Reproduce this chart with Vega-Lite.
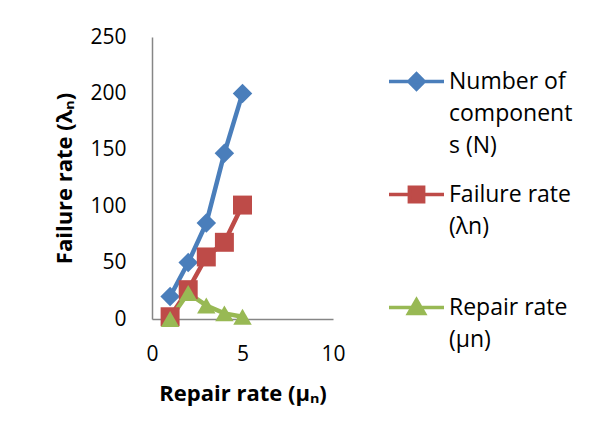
{
  "$schema": "https://vega.github.io/schema/vega-lite/v6.json",
  "width": 181,
  "height": 282,
  "autosize": {"type": "none"},
  "padding": {"left": 152, "top": 37, "right": 259, "bottom": 120},
  "background": "white",
  "config": {
    "view": {"stroke": null},
    "font": "Open Sans",
    "axis": {
      "grid": false,
      "ticks": false,
      "domainColor": "#868686",
      "domainWidth": 1.5,
      "labelFont": "Open Sans",
      "labelFontSize": 21,
      "labelColor": "#000000",
      "labelFlush": false,
      "titleFont": "Open Sans",
      "titleFontSize": 22,
      "titleFontWeight": "bold",
      "titleColor": "#000000"
    }
  },
  "data": {
    "values": [
      {"x": 1, "value": 20, "series": "Number of components (N)"},
      {"x": 2, "value": 50, "series": "Number of components (N)"},
      {"x": 3, "value": 85, "series": "Number of components (N)"},
      {"x": 4, "value": 147, "series": "Number of components (N)"},
      {"x": 5, "value": 200, "series": "Number of components (N)"},
      {"x": 1, "value": 2, "series": "Failure rate (λn)"},
      {"x": 2, "value": 26, "series": "Failure rate (λn)"},
      {"x": 3, "value": 55, "series": "Failure rate (λn)"},
      {"x": 4, "value": 68, "series": "Failure rate (λn)"},
      {"x": 5, "value": 101, "series": "Failure rate (λn)"},
      {"x": 1, "value": 0, "series": "Repair rate (µn)"},
      {"x": 2, "value": 23, "series": "Repair rate (µn)"},
      {"x": 3, "value": 12, "series": "Repair rate (µn)"},
      {"x": 4, "value": 5, "series": "Repair rate (µn)"},
      {"x": 5, "value": 2, "series": "Repair rate (µn)"}
    ]
  },
  "encoding": {
    "x": {
      "field": "x",
      "type": "quantitative",
      "scale": {"domain": [0, 10], "nice": false},
      "axis": {"values": [0, 5, 10], "labelPadding": 24, "title": "Repair rate (μₙ)", "titlePadding": 19}
    },
    "y": {
      "field": "value",
      "type": "quantitative",
      "scale": {"domain": [0, 250], "nice": false},
      "axis": {"values": [0, 50, 100, 150, 200, 250], "labelPadding": 26, "title": "Failure rate (λₙ)", "titlePadding": 13}
    }
  },
  "resolve": {"legend": {"color": "independent"}},
  "layer": [
    {
      "mark": {"type": "line", "strokeWidth": 4.5},
      "encoding": {
        "color": {
          "field": "series",
          "type": "nominal",
          "sort": ["Number of components (N)", "Failure rate (λn)", "Repair rate (µn)"],
          "scale": {
            "domain": ["Number of components (N)", "Failure rate (λn)", "Repair rate (µn)"],
            "range": ["#4A7EBB", "#BE4B48", "#98B954"]
          },
          "legend": {
            "orient": "none",
            "legendX": 235,
            "legendY": 15,
            "title": null,
            "padding": 0,
            "symbolSize": 3025,
            "symbolStrokeWidth": 3.5,
            "labelFont": "Open Sans",
            "labelFontSize": 23,
            "labelColor": "#000000",
            "labelOffset": 3,
            "labelLimit": 300,
            "labelBaseline": "middle",
            "rowPadding": 7,
            "labelExpr": "datum.label == 'Number of components (N)' ? ['Number of', 'component', 's (N)'] : datum.label == 'Failure rate (λn)' ? ['Failure rate', '(λn)', ''] : ['Repair rate', '(µn)']",
            "encode": {
              "symbols": {
                "update": {
                  "shape": {"signal": "datum.value == 'Number of components (N)' ? 'M-1,0L1,0M-0.28,0L0,-0.28L0.28,0L0,0.28Z' : datum.value == 'Failure rate (λn)' ? 'M-1,0L1,0M-0.26,-0.26L0.26,-0.26L0.26,0.26L-0.26,0.26Z' : 'M-1,0L1,0M-0.29,0.22L0.29,0.22L0,-0.28Z'"},
                  "fill": {"scale": "color", "field": "value"},
                  "stroke": {"scale": "color", "field": "value"},
                  "strokeWidth": {"value": 3.5},
                  "opacity": {"value": 1}
                }
              },
              "labels": {
                "update": {
                  "lineHeight": {"value": 32}
                }
              }
            }
          }
        }
      }
    },
    {
      "mark": {"type": "point", "filled": true, "opacity": 1},
      "encoding": {
        "color": {
          "field": "series",
          "type": "nominal",
          "legend": null
        },
        "shape": {
          "field": "series",
          "type": "nominal",
          "scale": {
            "domain": ["Number of components (N)", "Failure rate (λn)", "Repair rate (µn)"],
            "range": ["diamond", "square", "triangle-up"]
          },
          "legend": null
        },
        "size": {
          "field": "series",
          "type": "nominal",
          "scale": {
            "domain": ["Number of components (N)", "Failure rate (λn)", "Repair rate (µn)"],
            "range": [380, 340, 360]
          },
          "legend": null
        }
      }
    }
  ]
}
